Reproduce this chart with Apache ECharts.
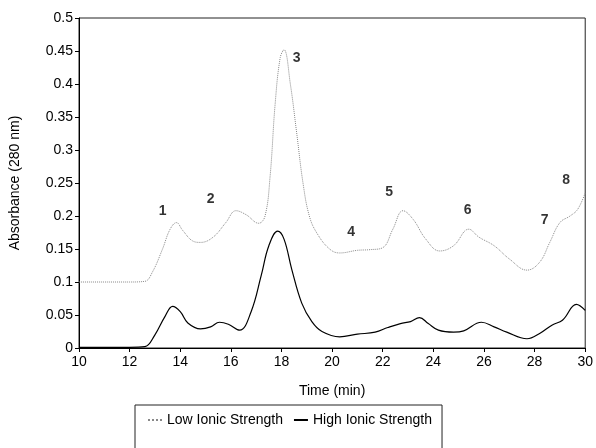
<!DOCTYPE html>
<html>
<head>
<meta charset="utf-8">
<script src="https://cdn.jsdelivr.net/npm/echarts@6/dist/echarts.min.js"></script>
<style>
  html, body { margin: 0; padding: 0; background: #fff; }
  #chart { width: 596px; height: 448px; }
</style>
</head>
<body>
<div id="chart"></div>
<script>
// Low ionic strength trace (dotted)
var lowTime = [10, 11, 12, 12.6, 12.9, 13.3, 13.6, 13.85, 14.1, 14.5, 14.8, 15.3, 15.8, 16.2, 16.6, 17.1, 17.35, 17.55, 17.75, 17.95, 18.1, 18.35, 18.6, 18.85, 19.1, 19.4, 19.9, 20.3, 21, 21.5, 22, 22.4, 22.8, 23.2, 23.7, 24.25, 24.8, 25.4, 25.8, 26.4, 27.0, 27.7, 28.2, 28.6, 29.0, 29.4, 29.7, 30];
var lowValues = [0.1, 0.1, 0.1, 0.101, 0.115, 0.15, 0.18, 0.19, 0.178, 0.162, 0.16, 0.168, 0.19, 0.208, 0.202, 0.189, 0.2, 0.26, 0.37, 0.44, 0.452, 0.4, 0.326, 0.25, 0.2, 0.174, 0.15, 0.144, 0.148, 0.149, 0.152, 0.18, 0.208, 0.195, 0.165, 0.147, 0.155, 0.18, 0.168, 0.155, 0.135, 0.118, 0.13, 0.16, 0.19, 0.2, 0.21, 0.235];

// High ionic strength trace (solid)
var highTime = [10, 11, 12, 12.6, 13.0, 13.4, 13.7, 14.0, 14.3, 14.8, 15.2, 15.55, 15.9, 16.35, 16.8, 17.2, 17.5, 17.85, 18.1, 18.4, 18.8, 19.2, 19.6, 20.3, 21, 21.7, 22.2, 22.7, 23.1, 23.45, 23.8, 24.2, 24.8, 25.2, 25.9, 26.4, 26.9, 27.7, 28.2, 28.7, 29.1, 29.65, 30];
var highValues = [0.001, 0.001, 0.001, 0.002, 0.02, 0.048, 0.063, 0.055, 0.038, 0.029, 0.032, 0.039, 0.036, 0.027, 0.055, 0.11, 0.155, 0.177, 0.165, 0.12, 0.068, 0.04, 0.025, 0.017, 0.021, 0.024, 0.031, 0.037, 0.04, 0.046, 0.037, 0.027, 0.024, 0.026, 0.039, 0.032, 0.024, 0.014, 0.022, 0.035, 0.042, 0.066, 0.057];

// peak numbers
var peakNames = ['1', '2', '3', '4', '5', '6', '7', '8'];
var peakX = [13.3, 15.2, 18.6, 20.75, 22.25, 25.35, 28.4, 29.25];
var peakY = [0.207, 0.225, 0.439, 0.175, 0.236, 0.209, 0.193, 0.254];

var fontFamily = "'Liberation Sans', Arial, sans-serif";

function pairs(xs, ys) {
  return xs.map(function (x, i) { return [x, ys[i]]; });
}

var chart = echarts.init(document.getElementById('chart'), null, { renderer: 'canvas' });
chart.setOption({
  animation: false,
  textStyle: { fontFamily: fontFamily, color: '#000' },
  grid: {
    left: 78, right: 9, top: 18, bottom: 100,
    show: true, borderColor: '#222', borderWidth: 1, backgroundColor: 'transparent'
  },
  legend: {
    data: ['Low Ionic Strength', 'High Ionic Strength'],
    left: 135, top: 405,
    padding: [8, 10, 30, 12],
    itemWidth: 14, itemHeight: 14, itemGap: 10,
    borderColor: '#222', borderWidth: 1,
    itemStyle: { color: 'transparent', borderWidth: 0 },
    textStyle: { fontSize: 14, color: '#000', fontFamily: fontFamily }
  },
  xAxis: {
    type: 'value',
    min: 10, max: 30, interval: 2,
    name: 'Time (min)', nameLocation: 'middle', nameGap: 36,
    nameTextStyle: { fontSize: 14, color: '#000' },
    axisLine: { onZero: false, lineStyle: { color: '#000' } },
    axisTick: { length: 4, lineStyle: { color: '#000' } },
    axisLabel: { fontSize: 14, color: '#000', margin: 7 },
    splitLine: { show: false }
  },
  yAxis: {
    type: 'value',
    min: 0, max: 0.5, interval: 0.05,
    name: 'Absorbance (280 nm)', nameLocation: 'middle', nameGap: 57,
    nameTextStyle: { fontSize: 14, color: '#000' },
    axisLine: { show: true, lineStyle: { color: '#000' } },
    axisTick: { show: true, length: 4, lineStyle: { color: '#000' } },
    axisLabel: { fontSize: 14, color: '#000', margin: 6 },
    splitLine: { show: false }
  },
  series: [
    {
      name: 'Low Ionic Strength',
      type: 'line',
      smooth: 0.4,
      symbol: 'none',
      data: pairs(lowTime, lowValues),
      lineStyle: { color: '#888', width: 1, type: 'dotted' },
      itemStyle: { color: '#888' }
    },
    {
      name: 'High Ionic Strength',
      type: 'line',
      smooth: 0.4,
      symbol: 'none',
      data: pairs(highTime, highValues),
      lineStyle: { color: '#000', width: 1.2 },
      itemStyle: { color: '#000' }
    },
    {
      name: 'peaks',
      type: 'scatter',
      symbolSize: 1,
      itemStyle: { color: 'transparent' },
      data: peakNames.map(function (n, i) { return { name: n, value: [peakX[i], peakY[i]] }; }),
      label: {
        show: true, position: 'inside', formatter: '{b}',
        fontSize: 14, fontWeight: 'bold', color: '#000', fontFamily: fontFamily
      },
      silent: true
    }
  ]
});
</script>
</body>
</html>
